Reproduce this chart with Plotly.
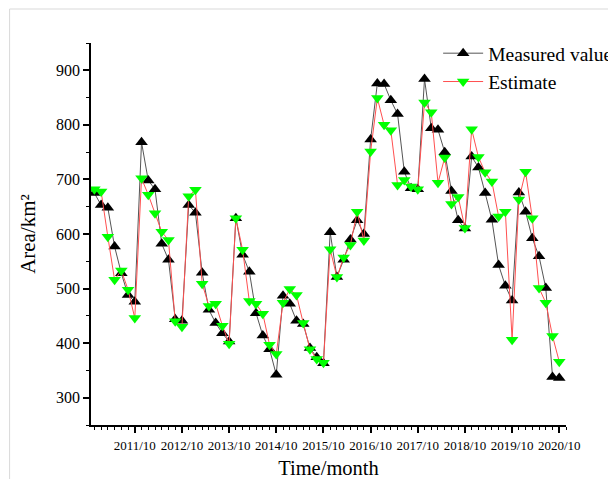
import plotly.graph_objects as go

tick_labels = ["2011/10", "2012/10", "2013/10", "2014/10", "2015/10",
               "2016/10", "2017/10", "2018/10", "2019/10", "2020/10"]
tick_index = [6, 13, 20, 27, 34, 41, 48, 55, 62, 69]

measured = [675, 653, 648, 577, 528, 488, 476,
            768, 698, 682, 582, 553, 444, 441,
            653, 639, 529, 461, 437, 418, 403,
            629, 562, 531, 455, 414, 389, 342,
            487, 472, 441, 435, 391, 374, 363,
            603, 521, 553, 590, 625, 600, 773,
            876, 875, 845, 820, 714, 684, 682,
            884, 794, 791, 750, 679, 625, 610,
            742, 722, 675, 626, 543, 505, 478,
            676, 641, 592, 559, 501, 338, 336]

estimate = [682, 678, 595, 516, 533, 498, 446,
            702, 672, 638, 604, 589, 440, 430,
            669, 681, 509, 468, 472, 432, 399,
            629, 571, 477, 472, 454, 397, 380,
            474, 499, 488, 437, 389, 371, 364,
            572, 521, 557, 580, 641, 588, 751,
            849, 800, 790, 690, 699, 687, 682,
            841, 823, 694, 740, 655, 668, 611,
            792, 741, 713, 696, 632, 641, 406,
            663, 714, 629, 501, 474, 413, 366]

idx = list(range(len(measured)))

FONT = "Liberation Serif"

fig = go.Figure()
fig.add_trace(go.Scatter(
    x=idx, y=measured, mode="lines+markers", name="Measured value",
    line=dict(color="#555555", width=1),
    marker=dict(symbol="triangle-up", size=11, color="black"),
))
fig.add_trace(go.Scatter(
    x=idx, y=estimate, mode="lines+markers", name="Estimate",
    line=dict(color="#ff5050", width=1),
    marker=dict(symbol="triangle-down", size=11, color="#00ff00"),
))

# page offset of the figure (body margin)
OFF = 8
# plot area in page pixels
L, R, T, B = 90.5, 566, 43, 425
W, H = 616, 479
pw, ph = R - L, B - T

def px(xp):
    return (xp - L) / pw

def py(yp):
    return (B - yp) / ph

fig.update_layout(
    width=W, height=H,
    margin=dict(l=L - OFF, r=W - (R - OFF), t=T - OFF, b=H - (B - OFF), pad=0,
                autoexpand=False),
    paper_bgcolor="white", plot_bgcolor="white",
    font=dict(family=FONT, color="black"),
    showlegend=True,
    legend=dict(x=px(438), y=py(34), xanchor="left", yanchor="top",
                font=dict(size=19.5, family=FONT), bgcolor="rgba(0,0,0,0)",
                tracegroupgap=0, itemwidth=40),
    xaxis=dict(range=[-0.5, 70], tickmode="array", tickvals=tick_index,
               ticktext=tick_labels, ticks="outside", ticklen=6, tickwidth=1.5,
               tickcolor="black", showline=True, linecolor="black", linewidth=1.5,
               showgrid=False, zeroline=False, tickfont=dict(size=13, family=FONT),
               automargin=False, ticklabelstandoff=2,
               title=dict(text="Time/month", font=dict(size=20.5, family=FONT), standoff=8),
               minor=dict(tickmode="linear", tick0=0, dtick=1, ticks="outside",
                          ticklen=3, tickwidth=1, tickcolor="black", showgrid=False)),
    yaxis=dict(range=[250, 950], dtick=100, tick0=0, ticks="outside", ticklen=6,
               tickwidth=1.5, tickcolor="black", showline=True, linecolor="black",
               linewidth=1.5, showgrid=False, zeroline=False,
               tickfont=dict(size=16, family=FONT), automargin=False,
               title=dict(text="Area/km²", font=dict(size=21, family=FONT), standoff=15),
               minor=dict(tickmode="linear", tick0=0, dtick=50, ticks="outside",
                          ticklen=3, tickwidth=1, tickcolor="black", showgrid=False)),
    shapes=[dict(type="path", xref="paper", yref="paper",
                 path=f"M {px(9)} {py(490)} L {px(9)} {py(9)} L {px(630)} {py(9)}",
                 line=dict(color="#d9d9d9", width=1))],
)

fig.write_html("out.html")
